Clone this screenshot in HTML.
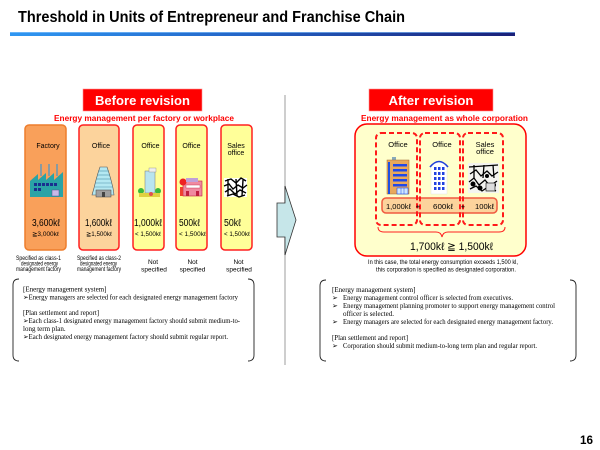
<!DOCTYPE html>
<html><head><meta charset="utf-8"><style>
html,body{margin:0;padding:0;background:#fff;}
svg{display:block;}
text{font-family:"Liberation Sans",Arial,"DejaVu Sans",sans-serif;fill:#000;}
.s{font-family:"Liberation Serif","Times New Roman","DejaVu Serif",serif;font-size:7px;}
</style></head><body>
<svg width="600" height="450" viewBox="0 0 600 450" xmlns="http://www.w3.org/2000/svg">
<defs>
<linearGradient id="bar" x1="0" x2="1" y1="0" y2="0">
<stop offset="0" stop-color="#2f97f2"/>
<stop offset="0.45" stop-color="#2466c8"/>
<stop offset="1" stop-color="#1a1f78"/>
</linearGradient>
</defs>

<!-- Title -->
<text x="18" y="22" font-size="16" font-weight="bold" textLength="387" lengthAdjust="spacingAndGlyphs">Threshold in Units of Entrepreneur and Franchise Chain</text>
<rect x="10" y="32" width="505" height="4" fill="url(#bar)"/>
<rect x="10" y="32" width="505" height="1" fill="#8cc8ff" opacity="0.6"/>

<!-- Divider + arrow -->
<line x1="285" y1="95" x2="285" y2="365" stroke="#bdbdbd" stroke-width="1.5"/>
<polygon points="277,203 285,203 285,186 296,220 285,255 285,237 277,237" fill="#c6e6e9" stroke="#333" stroke-width="0.8"/>

<!-- Before revision -->
<rect x="83" y="89" width="119" height="22" fill="#ff0000" stroke="#ff9090" stroke-width="0.6"/>
<text x="142.5" y="105" font-size="13" font-weight="bold" text-anchor="middle" style="fill:#fff" textLength="95" lengthAdjust="spacingAndGlyphs">Before revision</text>
<text x="144" y="121" font-size="8.5" font-weight="bold" text-anchor="middle" style="fill:#ff0000" textLength="180" lengthAdjust="spacingAndGlyphs">Energy management per factory or workplace</text>

<!-- Column boxes -->
<rect x="25" y="125" width="41" height="125" rx="4" fill="#f9a05a" stroke="#ee7d2c" stroke-width="1.5"/>
<rect x="79" y="125" width="40" height="125" rx="4" fill="#fcd39c" stroke="#ff2020" stroke-width="1.5"/>
<rect x="133" y="125" width="31" height="125" rx="4" fill="#ffff99" stroke="#ff2020" stroke-width="1.5"/>
<rect x="176" y="125" width="31" height="125" rx="4" fill="#ffff99" stroke="#ff2020" stroke-width="1.5"/>
<rect x="221" y="125" width="31" height="125" rx="4" fill="#ffff99" stroke="#ff2020" stroke-width="1.5"/>

<g font-size="7" text-anchor="middle">
<text x="48" y="148">Factory</text>
<text x="101" y="148">Office</text>
<text x="150.5" y="148">Office</text>
<text x="191.5" y="148">Office</text>
<text x="236" y="148">Sales</text>
<text x="236" y="155">office</text>
</g>

<!-- Factory icon -->
<g>
<rect x="40" y="164" width="2" height="12" fill="#8a9aa0"/>
<rect x="48" y="164" width="2" height="12" fill="#8a9aa0"/>
<rect x="56" y="164" width="2" height="12" fill="#8a9aa0"/>
<polygon points="30,197 30,181 38,174 38,180 46,173 46,180 54,173 54,180 63,172 63,197" fill="#2aa3a6"/>
<g fill="#1a2f8f">
<rect x="34" y="183" width="3" height="3"/><rect x="38" y="183" width="3" height="3"/><rect x="42" y="183" width="3" height="3"/><rect x="46" y="183" width="3" height="3"/><rect x="50" y="183" width="3" height="3"/><rect x="54" y="183" width="3" height="3"/>
<rect x="34" y="188" width="3" height="3"/><rect x="38" y="188" width="3" height="3"/>
</g>
<rect x="52" y="190" width="7" height="6" fill="#c8b8e8" stroke="#505090" stroke-width="0.5"/>
</g>

<!-- Office tower icon (col2) -->
<g>
<polygon points="100,167 107,167 109,173 111,180 113,188 114,195 92,195 94,188 96,180 98,173" fill="#b4e8f2" stroke="#555" stroke-width="0.6"/>
<g stroke="#4a90a8" stroke-width="0.6">
<line x1="98" y1="171" x2="109" y2="171"/><line x1="97" y1="175" x2="110" y2="175"/><line x1="96" y1="179" x2="111" y2="179"/><line x1="95" y1="183" x2="112" y2="183"/><line x1="95" y1="187" x2="113" y2="187"/>
</g>
<rect x="96" y="190" width="15" height="7" fill="#a0a0a0" stroke="#444" stroke-width="0.5"/>
<rect x="102" y="192" width="3" height="5" fill="#444"/>
</g>

<!-- Office icon (col3) -->
<g>
<rect x="145" y="171" width="10" height="22" fill="#b8e4f0" stroke="#777" stroke-width="0.5"/>
<rect x="149" y="168" width="7" height="4" fill="#eee" stroke="#888" stroke-width="0.4"/>
<circle cx="141" cy="191" r="3" fill="#3cb83c"/>
<circle cx="158" cy="191" r="3" fill="#3cb83c"/>
<rect x="139" y="193" width="21" height="4" fill="#e0d040"/>
<circle cx="151" cy="194" r="2" fill="#e05050"/>
</g>

<!-- Office icon (col4) -->
<g>
<rect x="183" y="181" width="19" height="15" fill="#f08aa0" stroke="#c02040" stroke-width="0.6"/>
<circle cx="183" cy="182" r="3.5" fill="#ee2222"/>
<rect x="186" y="178" width="12" height="4" fill="#c0a0d8"/>
<rect x="186" y="185" width="14" height="3" fill="#fff" stroke="#c02040" stroke-width="0.4"/>
<rect x="186" y="191" width="3" height="5" fill="#c02040"/><rect x="196" y="191" width="3" height="5" fill="#c02040"/>
<rect x="180" y="187" width="3" height="9" fill="#ee4030"/>
</g>

<!-- Sales icon (col5) -->
<g>
<rect x="224" y="178" width="23" height="19" fill="#fff"/>
<g stroke="#000" stroke-width="1.4" fill="none">
<path d="M225,181 L231,179 L236,183 L241,178 L246,181"/>
<path d="M224,186 L229,184 L233,189 L238,185 L243,188 L247,185"/>
<path d="M225,192 L230,189 L235,194 L240,190 L246,193"/>
<path d="M227,196 L233,194 L239,197 L245,195"/>
<path d="M228,179 L228,196 M236,179 L237,196 M243,180 L242,196"/>
</g>
</g>

<!-- Values -->
<g font-size="10">
<text x="32" y="226" textLength="28" lengthAdjust="spacingAndGlyphs">3,600kℓ</text>
<text x="85" y="226" textLength="27" lengthAdjust="spacingAndGlyphs">1,600kℓ</text>
<text x="134" y="226" textLength="28" lengthAdjust="spacingAndGlyphs">1,000kℓ</text>
<text x="179" y="226" textLength="21" lengthAdjust="spacingAndGlyphs">500kℓ</text>
<text x="224" y="226" textLength="17" lengthAdjust="spacingAndGlyphs">50kℓ</text>
</g>
<g font-size="6">
<text x="32" y="236" textLength="27" lengthAdjust="spacingAndGlyphs">≧3,000kℓ</text>
<text x="86" y="236" textLength="26" lengthAdjust="spacingAndGlyphs">≧1,500kℓ</text>
<text x="135" y="236" textLength="26" lengthAdjust="spacingAndGlyphs">&lt; 1,500kℓ</text>
<text x="179" y="236" textLength="27" lengthAdjust="spacingAndGlyphs">&lt; 1,500kℓ</text>
<text x="224" y="236" textLength="26" lengthAdjust="spacingAndGlyphs">&lt; 1,500kℓ</text>
</g>

<!-- Bottom labels -->
<g font-size="6.5">
<text x="16" y="260" textLength="45" lengthAdjust="spacingAndGlyphs">Specified as class-1</text>
<text x="21" y="265.5" textLength="37" lengthAdjust="spacingAndGlyphs">designated energy</text>
<text x="16" y="271" textLength="45" lengthAdjust="spacingAndGlyphs">management factory</text>
<text x="77" y="260" textLength="44" lengthAdjust="spacingAndGlyphs">Specified as class-2</text>
<text x="80" y="265.5" textLength="37" lengthAdjust="spacingAndGlyphs">designated energy</text>
<text x="77" y="271" textLength="44" lengthAdjust="spacingAndGlyphs">management factory</text>
</g>
<g font-size="6.5" text-anchor="middle">
<text x="153" y="264">Not</text>
<text x="154" y="271.5">specified</text>
<text x="192.5" y="264">Not</text>
<text x="192.5" y="271.5">specified</text>
<text x="238.5" y="264">Not</text>
<text x="239" y="271.5">specified</text>
</g>

<!-- After revision -->
<rect x="369" y="89" width="124" height="22" fill="#ff0000" stroke="#ff9090" stroke-width="0.6"/>
<text x="431" y="105" font-size="13" font-weight="bold" text-anchor="middle" style="fill:#fff" textLength="85" lengthAdjust="spacingAndGlyphs">After revision</text>
<text x="444.5" y="121" font-size="8.5" font-weight="bold" text-anchor="middle" style="fill:#ff0000" textLength="167" lengthAdjust="spacingAndGlyphs">Energy management as whole corporation</text>

<rect x="355" y="124" width="171" height="132" rx="12" fill="#ffffcc" stroke="#ff0000" stroke-width="1.5"/>
<rect x="382" y="198" width="115" height="15" rx="4" fill="#fcd39c" stroke="#f05a40" stroke-width="1.5"/>
<g fill="none" stroke="#ff1a1a" stroke-width="2" stroke-dasharray="5 3">
<rect x="376" y="133" width="41" height="92" rx="5"/>
<rect x="420" y="133" width="40" height="92" rx="5"/>
<rect x="463" y="133" width="40" height="92" rx="5"/>
</g>

<g font-size="7.5" text-anchor="middle">
<text x="398" y="147">Office</text>
<text x="442" y="147">Office</text>
<text x="485" y="147">Sales</text>
<text x="485" y="154">office</text>
</g>

<!-- Right office building -->
<g>
<rect x="392" y="157" width="4" height="3" fill="#8ab"/>
<rect x="387" y="160" width="22" height="34" fill="#e8a85c" stroke="#a06830" stroke-width="0.5"/>
<rect x="388" y="162" width="2" height="32" fill="#2050e0"/>
<g fill="#2048e8">
<rect x="393" y="164" width="14" height="2.5"/><rect x="393" y="169" width="14" height="2.5"/><rect x="393" y="174" width="14" height="2.5"/><rect x="393" y="179" width="14" height="2.5"/><rect x="393" y="184" width="14" height="2.5"/>
</g>
<rect x="397" y="188" width="11" height="6" fill="#cfe8ff" stroke="#2048e8" stroke-width="0.6"/>
<line x1="401" y1="188" x2="401" y2="194" stroke="#2048e8" stroke-width="0.5"/><line x1="404" y1="188" x2="404" y2="194" stroke="#2048e8" stroke-width="0.5"/>
</g>

<!-- Right tower -->
<g>
<path d="M431,194 L431,166 Q439,157 447,166 L447,194 Z" fill="#fff" stroke="#ddd" stroke-width="0.4"/>
<path d="M430,167 Q439,156 448,167" fill="none" stroke="#2040d8" stroke-width="1.6"/>
<g fill="#2040e0">
<rect x="434" y="167" width="2.5" height="3"/><rect x="438" y="167" width="2.5" height="3"/><rect x="442" y="167" width="2.5" height="3"/>
<rect x="434" y="172" width="2.5" height="3"/><rect x="438" y="172" width="2.5" height="3"/><rect x="442" y="172" width="2.5" height="3"/>
<rect x="434" y="177" width="2.5" height="3"/><rect x="438" y="177" width="2.5" height="3"/><rect x="442" y="177" width="2.5" height="3"/>
<rect x="434" y="182" width="2.5" height="3"/><rect x="438" y="182" width="2.5" height="3"/><rect x="442" y="182" width="2.5" height="3"/>
<rect x="434" y="187" width="2.5" height="3"/><rect x="438" y="187" width="2.5" height="3"/><rect x="442" y="187" width="2.5" height="3"/>
</g>
</g>

<!-- Right sales office -->
<g>
<rect x="468" y="163" width="31" height="30" fill="#f4f4f0"/>
<g stroke="#000" stroke-width="1.3" fill="none">
<path d="M469,167 L498,165"/>
<path d="M474,165 L474,178 M484,165 L483,178 M493,165 L494,178"/>
<path d="M470,174 L476,170 L481,176 L487,171 L492,176 L498,172"/>
<path d="M469,182 L474,178 L479,185 L485,180 L490,186 L497,181"/>
<path d="M470,189 L476,186 L482,191 L488,187 L496,191"/>
</g>
<g fill="#000">
<circle cx="473" cy="184" r="2.5"/><circle cx="487" cy="176" r="2"/><circle cx="480" cy="188" r="2.5"/><circle cx="494" cy="185" r="2"/>
</g>
<rect x="486" y="183" width="9" height="8" fill="#ddd" stroke="#000" stroke-width="0.6"/>
</g>

<g font-size="7.5">
<text x="386" y="209" textLength="25" lengthAdjust="spacingAndGlyphs">1,000kℓ</text>
<text x="418" y="209" text-anchor="middle">+</text>
<text x="433" y="209" textLength="20" lengthAdjust="spacingAndGlyphs">600kℓ</text>
<text x="463" y="209" text-anchor="middle">+</text>
<text x="475" y="209" textLength="19" lengthAdjust="spacingAndGlyphs">100kℓ</text>
</g>

<!-- Brace -->
<path d="M378,227 Q378,232 384,232 L436,232 Q441,232 442,237 Q443,232 448,232 L499,232 Q505,232 505,227" fill="none" stroke="#ff2020" stroke-width="1"/>

<text x="410" y="250" font-size="11" textLength="83" lengthAdjust="spacingAndGlyphs">1,700kℓ  ≧  1,500kℓ</text>

<g font-size="6.3" text-anchor="middle">
<text x="443" y="264" textLength="150" lengthAdjust="spacingAndGlyphs">In this case, the total energy consumption exceeds 1,500 kl,</text>
<text x="446" y="271.5" textLength="140" lengthAdjust="spacingAndGlyphs">this corporation is specified as designated corporation.</text>
</g>

<!-- Bracket boxes -->
<g fill="none" stroke="#222" stroke-width="0.9">
<path d="M19,279 Q13,279 13,285 L13,355 Q13,361 19,361"/>
<path d="M248,279 Q254,279 254,285 L254,355 Q254,361 248,361"/>
<path d="M326,280 Q320,280 320,286 L320,355 Q320,361 326,361"/>
<path d="M570,280 Q576,280 576,286 L576,355 Q576,361 570,361"/>
</g>

<text class="s" x="23" y="291.5">[Energy management system]</text>
<text class="s" x="23" y="299.5" textLength="215" lengthAdjust="spacingAndGlyphs">➢Energy managers are selected for each designated energy management factory</text>
<text class="s" x="23" y="315" textLength="76" lengthAdjust="spacingAndGlyphs">[Plan settlement and report]</text>
<text class="s" x="23" y="323" textLength="217" lengthAdjust="spacingAndGlyphs">➢Each class-1 designated energy management factory should submit medium-to-</text>
<text class="s" x="23" y="331">long term plan.</text>
<text class="s" x="23" y="339" textLength="205" lengthAdjust="spacingAndGlyphs">➢Each designated energy management factory should submit regular report.</text>

<text class="s" x="332" y="292">[Energy management system]</text>
<text class="s" x="332" y="300">➢</text>
<text class="s" x="343" y="300" textLength="170" lengthAdjust="spacingAndGlyphs">Energy management control officer is selected from executives.</text>
<text class="s" x="332" y="308">➢</text>
<text class="s" x="343" y="308" textLength="212" lengthAdjust="spacingAndGlyphs">Energy management planning promoter to support energy management control</text>
<text class="s" x="343" y="316">officer is selected.</text>
<text class="s" x="332" y="324">➢</text>
<text class="s" x="343" y="324" textLength="210" lengthAdjust="spacingAndGlyphs">Energy managers are selected for each designated energy management factory.</text>
<text class="s" x="332" y="340" textLength="76" lengthAdjust="spacingAndGlyphs">[Plan settlement and report]</text>
<text class="s" x="332" y="348">➢</text>
<text class="s" x="343" y="348" textLength="194" lengthAdjust="spacingAndGlyphs">Corporation should submit medium-to-long term plan and regular report.</text>

<!-- Page number -->
<text x="580" y="444" font-size="12" font-weight="bold" textLength="13" lengthAdjust="spacingAndGlyphs">16</text>
</svg>
</body></html>
